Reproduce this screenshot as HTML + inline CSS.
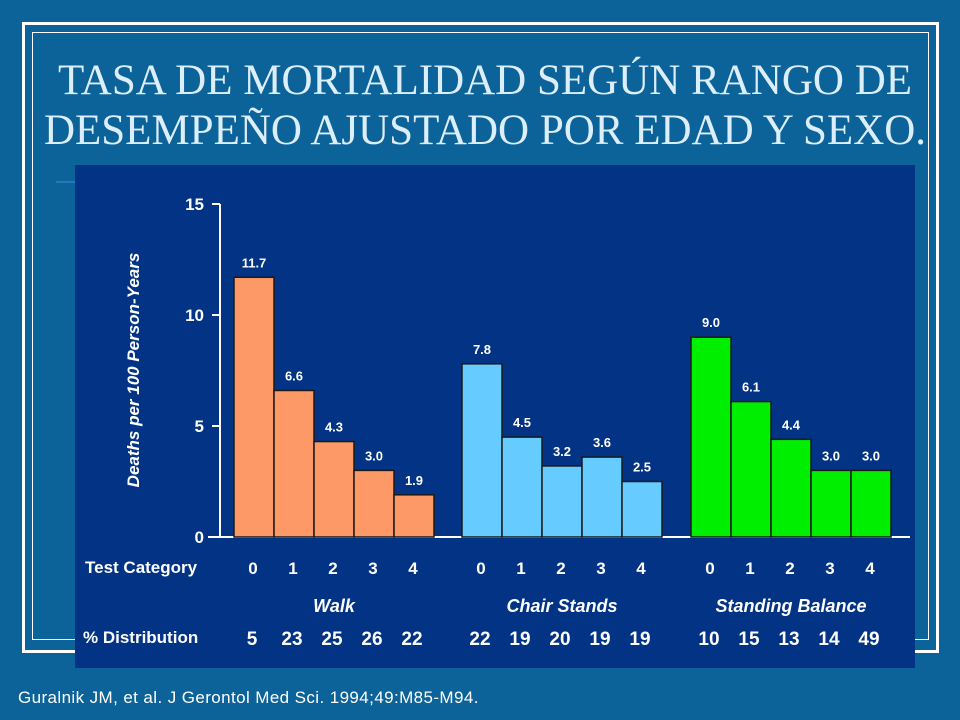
<!DOCTYPE html>
<html><head><meta charset="utf-8"><style>
html,body{margin:0;padding:0;}
body{width:960px;height:720px;background:#0c6399;position:relative;overflow:hidden;font-family:"Liberation Sans",sans-serif;}
.frame{position:absolute;left:22px;top:22px;width:911px;height:625px;border:3px solid #fff;}
.inner{position:absolute;left:32px;top:32px;width:895px;height:606px;border:1px solid #fff;}
.title{position:absolute;left:40px;top:56px;width:890px;text-align:center;font-family:"Liberation Serif",serif;font-size:43px;line-height:50px;color:#dceefa;letter-spacing:0px;}
.cite{position:absolute;left:18px;top:688px;color:#fff;font-size:17px;letter-spacing:0.4px;}
svg{position:absolute;left:0;top:0;}
</style></head><body>
<div class="frame"></div>
<div class="inner"></div>
<div class="title">TASA DE MORTALIDAD SEGÚN RANGO DE DESEMPEÑO AJUSTADO POR EDAD Y SEXO.</div>
<svg id="chart" width="960" height="720">
<rect x="75" y="165" width="840" height="503" fill="#023384"/>
<line x1="56" y1="182" x2="75" y2="182" stroke="#3a8fe0" stroke-width="1"/>
</svg>
<div class="cite">Guralnik JM, et al. J Gerontol Med Sci. 1994;49:M85-M94.</div>
<script>
const groups = ["Walk","Chair Stands","Standing Balance"];
const categories = ["0","1","2","3","4"];
const walkValues = [11.7,6.6,4.3,3.0,1.9];
const chairValues = [7.8,4.5,3.2,3.6,2.5];
const balanceValues = [9.0,6.1,4.4,3.0,3.0];
const walkDist = ["5","23","25","26","22"];
const chairDist = ["22","19","20","19","19"];
const balanceDist = ["10","15","13","14","49"];
const yTicks = [0,5,10,15];
const series=[walkValues,chairValues,balanceValues];
const dists=[walkDist,chairDist,balanceDist];
const colors=["#fc9966","#66ccff","#00ee00"];
const groupStart=[234,462,691], barW=40;
const y=v=>537-v*(333/15);
const svg=document.getElementById('chart');
const NS="http://www.w3.org/2000/svg";
function mk(t,a,txt){const e=document.createElementNS(NS,t);for(const k in a)e.setAttribute(k,a[k]);if(txt!==undefined)e.textContent=txt;svg.appendChild(e);return e;}
let ax=mk('line',{x1:220,y1:y(15),x2:220,y2:537,stroke:'#fff','stroke-width':2});


let bx=mk('line',{x1:208,y1:537,x2:910,y2:537,stroke:'#fff','stroke-width':2});


yTicks.forEach(t=>{
  let l=mk('line',{x1:212,y1:y(t),x2:220,y2:y(t),stroke:'#fff','stroke-width':2});
  
  
  let tx=mk('text',{x:204,y:y(t)+6,'text-anchor':'end',fill:'#fff','font-size':17,'font-weight':'bold'},String(t));
  
  
});
let yt=mk('text',{transform:'translate(139,370) rotate(-90)','text-anchor':'middle',fill:'#fff','font-size':17,'font-weight':'bold','font-style':'italic'},'Deaths per 100 Person-Years');


let r1=mk('text',{x:85,y:573,fill:'#fff','font-size':17,'font-weight':'bold'},'Test Category');


let r2=mk('text',{x:83,y:643,fill:'#fff','font-size':17,'font-weight':'bold'},'% Distribution');


series.forEach((vals,g)=>{
  vals.forEach((v,i)=>{
    const x=groupStart[g]+i*barW;
    let r=mk('rect',{x:x,y:y(v),width:barW,height:537-y(v),fill:colors[g],stroke:'#1a1a1a','stroke-width':1.5});
    
    
    let lb=mk('text',{x:x+barW/2,y:y(v)-10,'text-anchor':'middle',fill:'#fff','font-size':13,'font-weight':'bold'},v.toFixed(1));
    
    
    let c=mk('text',{x:x+barW/2-1,y:574,'text-anchor':'middle',fill:'#fff','font-size':17,'font-weight':'bold'},categories[i]);
    
    
    let d=mk('text',{x:x+barW/2-2,y:645,'text-anchor':'middle',fill:'#fff','font-size':19,'font-weight':'bold'},dists[g][i]);
    
    
  });
  let gn=mk('text',{x:groupStart[g]+100,y:612,'text-anchor':'middle',fill:'#fff','font-size':18,'font-weight':'bold','font-style':'italic'},groups[g]);
  
  
});
</script>
</body></html>
